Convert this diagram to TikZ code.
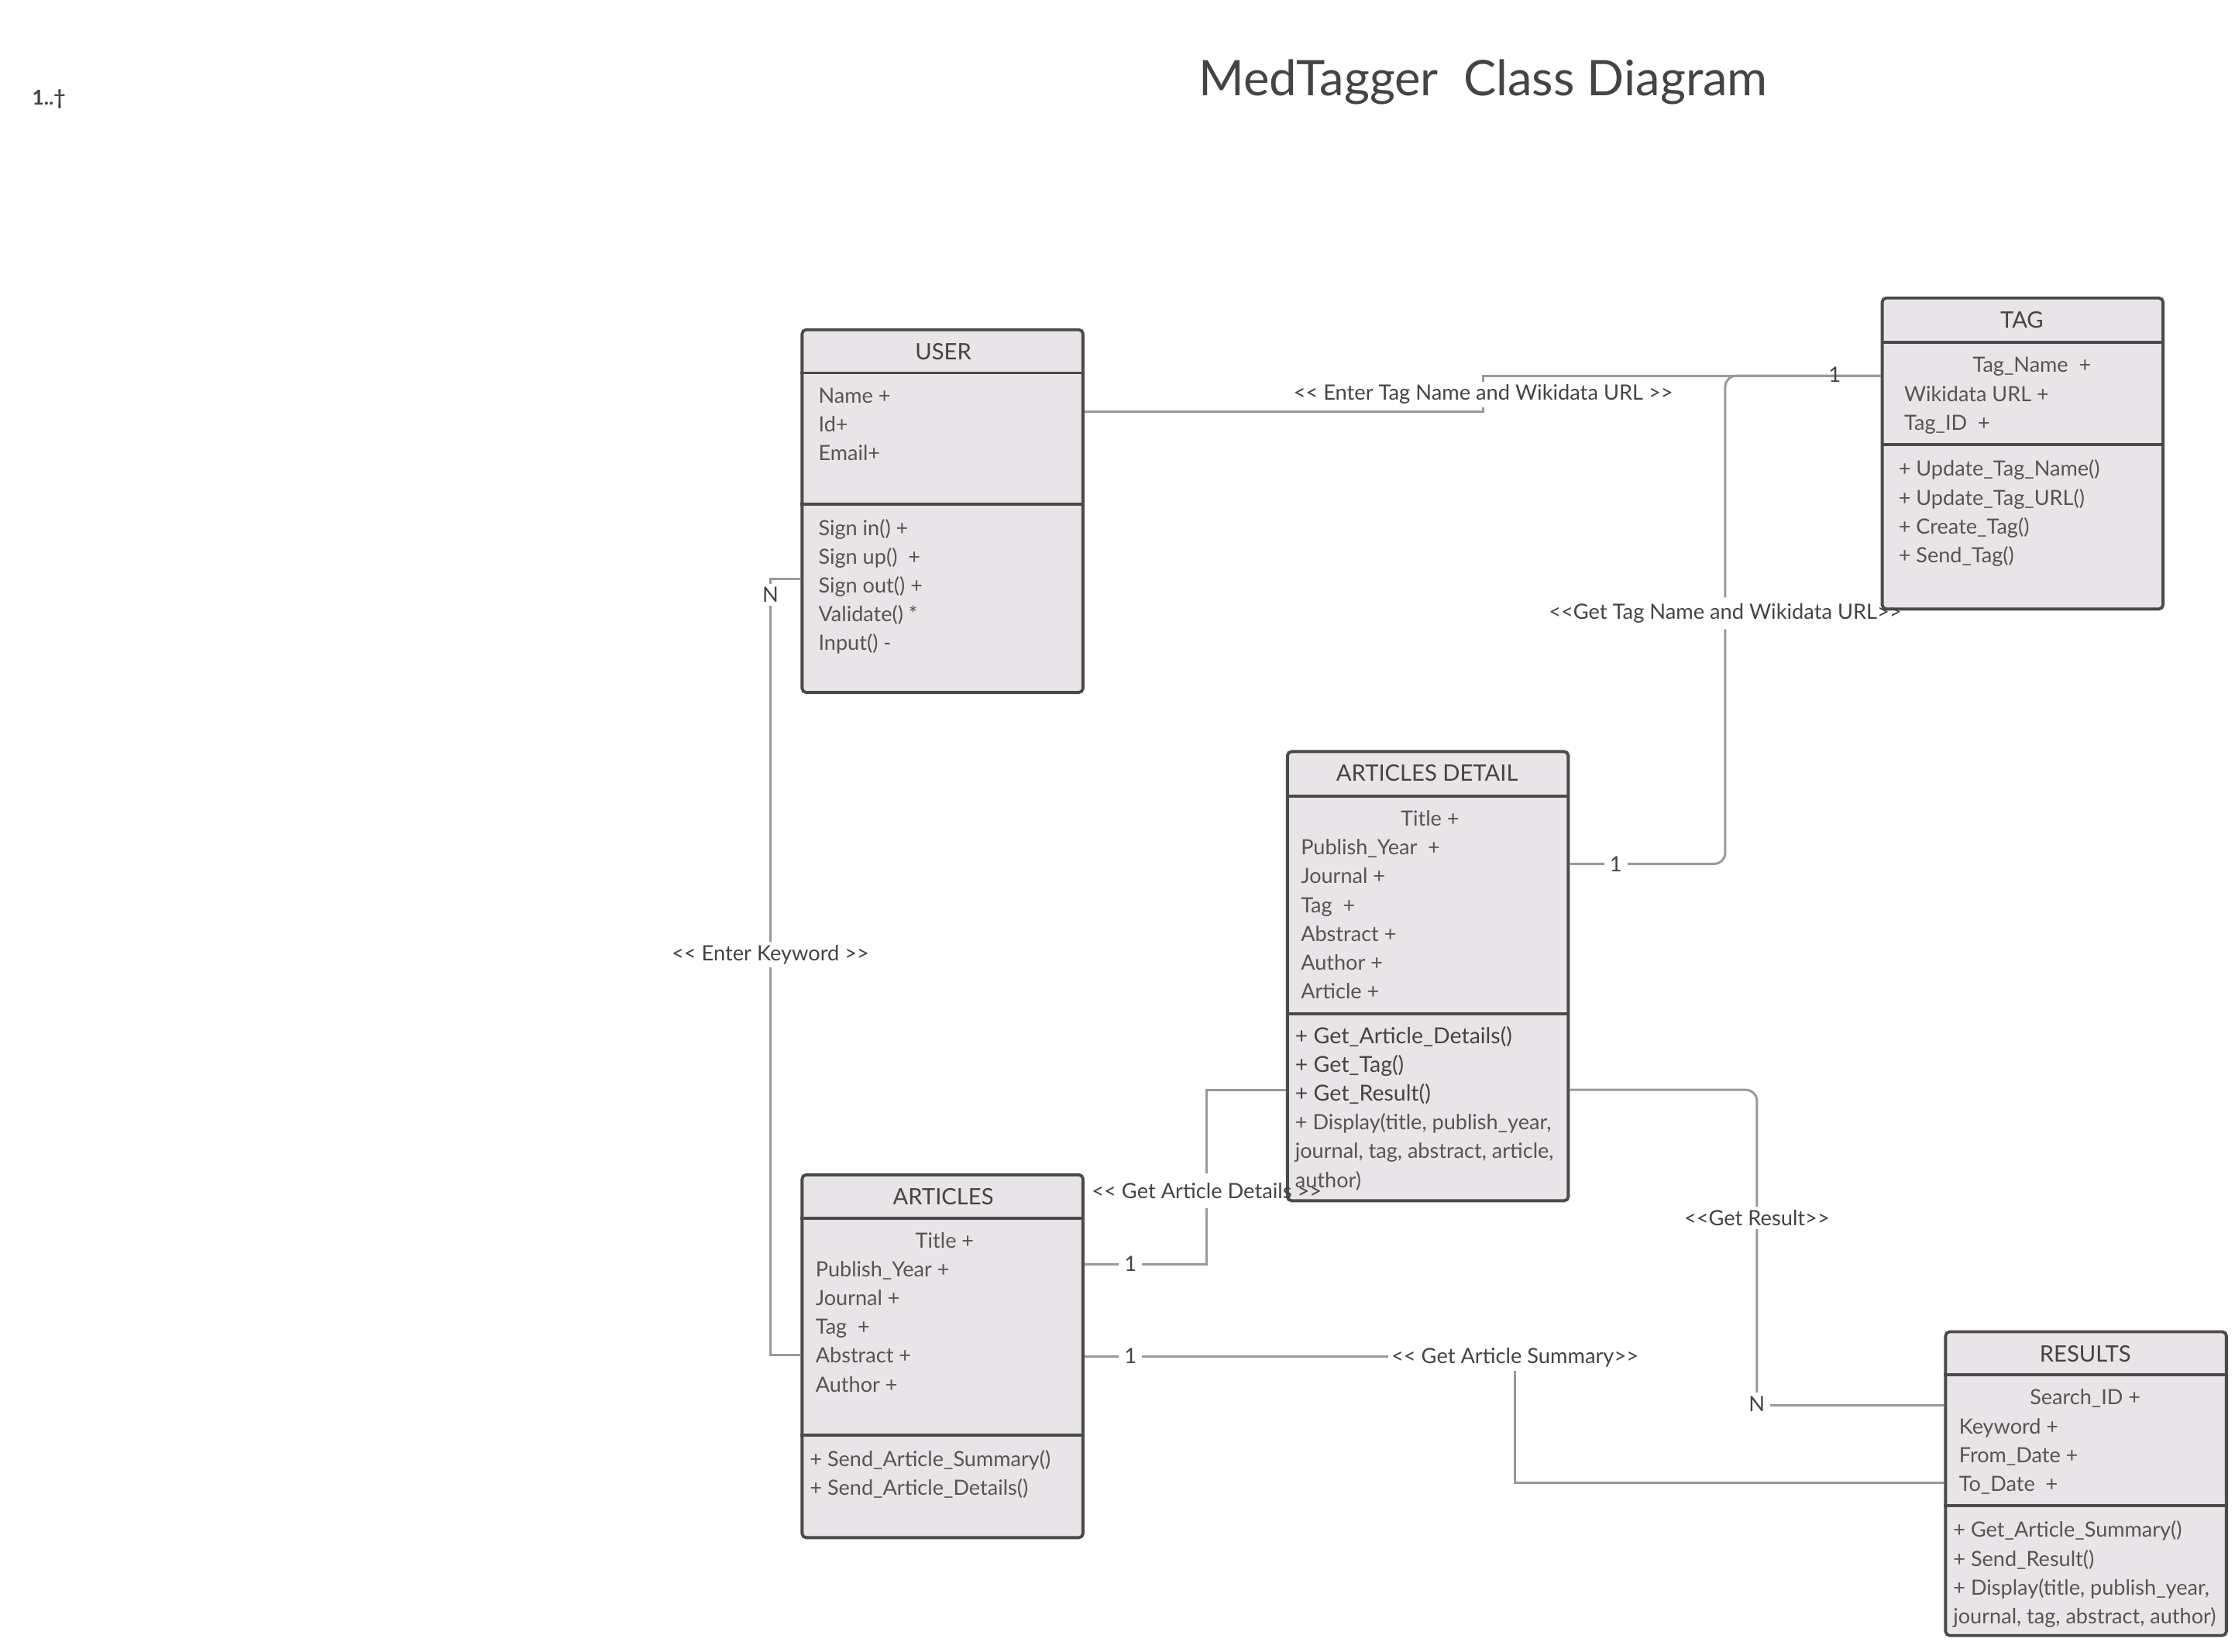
\documentclass[tikz,border=0pt]{standalone}
\usepackage{fontspec}
\setmainfont{Lato}
\usetikzlibrary{fit}

\definecolor{boxfill}{HTML}{E8E4E8}
\definecolor{boxline}{HTML}{4A4A4A}
\definecolor{txtgray}{HTML}{555555}
\definecolor{headgray}{HTML}{444444}
\definecolor{linkgray}{HTML}{999999}

\tikzset{
	classbox/.style={draw=boxline, fill=boxfill, line width=1.1pt, rounded corners=1.5pt, inner sep=0pt},
	divider/.style={draw=boxline, line width=1.1pt},
	attr/.style={anchor=west, inner sep=0pt, text=txtgray, font=\fontsize{7.7}{10}\selectfont, text height=1.6ex, text depth=.4ex},
	attrc/.style={attr, anchor=center},
	head/.style={inner sep=0pt, text=headgray, font=\fontsize{8.3}{10}\selectfont, text height=1.6ex, text depth=.4ex},
	link/.style={draw=linkgray, line width=0.85pt},
	linklbl/.style={fill=white, inner sep=1.2pt, text=headgray, font=\fontsize{7.75}{10}\selectfont},
	linknum/.style={linklbl, inner xsep=2pt},
}

\begin{document}
\begin{tikzpicture}[x=0.018589cm, y=-0.018589cm]
		\useasboundingbox (0,0) rectangle (1552,1147);
		
		\node[text=headgray, font=\fontsize{18}{20}\selectfont] (title) at (1030,57) {MedTagger\ \ Class Diagram};
		\node[anchor=west, inner sep=0pt, text=headgray, font=\bfseries\fontsize{7.5}{9}\selectfont] (corner) at (22,69) {1..†};
		
		% classes
		\node[classbox, fit={(557,229) (752,481)}] (user) {};
		\node[classbox, fit={(1307,207) (1502,423)}] (tag) {};
		\node[classbox, fit={(894,522) (1089,834)}] (artdet) {};
		\node[classbox, fit={(557,816) (752,1068)}] (art) {};
		\node[classbox, fit={(1351,925) (1546,1136)}] (res) {};
		
		\draw[divider] (user.west |- 0,259) -- (user.east |- 0,259);
		\draw[divider] (user.west |- 0,350) -- (user.east |- 0,350);
		\draw[divider] (tag.west |- 0,238) -- (tag.east |- 0,238);
		\draw[divider] (tag.west |- 0,309) -- (tag.east |- 0,309);
		\draw[divider] (artdet.west |- 0,553) -- (artdet.east |- 0,553);
		\draw[divider] (artdet.west |- 0,704) -- (artdet.east |- 0,704);
		\draw[divider] (art.west |- 0,846) -- (art.east |- 0,846);
		\draw[divider] (art.west |- 0,997) -- (art.east |- 0,997);
		\draw[divider] (res.west |- 0,955) -- (res.east |- 0,955);
		\draw[divider] (res.west |- 0,1046) -- (res.east |- 0,1046);
		
		% USER
		\node[head] (userH) at (655,244) {USER};
		\node[attr] (userA1) at (568,274) {Name +};
		\node[attr] (userA2) at (568,294) {Id+};
		\node[attr] (userA3) at (568,314) {Email+};
		\node[attr] (userM1) at (568,366) {Sign in() +};
		\node[attr] (userM2) at (568,386) {Sign up()\ \ +};
		\node[attr] (userM3) at (568,406) {Sign out() +};
		\node[attr] (userM4) at (568,426) {Validate() *};
		\node[attr] (userM5) at (568,446) {Input() -};
		
		% TAG
		\node[head] (tagH) at (1404,222) {TAG};
		\node[attrc] (tagA1) at (1411,253) {Tag\_Name\ \ +};
		\node[attr] (tagA2) at (1322,273) {Wikidata URL +};
		\node[attr] (tagA3) at (1322,293) {Tag\_ID\ \ +};
		\node[attr] (tagM1) at (1318,325) {+ Update\_Tag\_Name()};
		\node[attr] (tagM2) at (1318,345) {+ Update\_Tag\_URL()};
		\node[attr] (tagM3) at (1318,365) {+ Create\_Tag()};
		\node[attr] (tagM4) at (1318,385) {+ Send\_Tag()};
		
		% ARTICLES DETAIL
		\node[head] (artdetH) at (991,537) {ARTICLES DETAIL};
		\node[attrc] (artdetA1) at (993,568) {Title +};
		\node[attr] (artdetA2) at (903,588) {Publish\_Year\ \ +};
		\node[attr] (artdetA3) at (903,608) {Journal +};
		\node[attr] (artdetA4) at (903,628) {Tag\ \ +};
		\node[attr] (artdetA5) at (903,648) {Abstract +};
		\node[attr] (artdetA6) at (903,668) {Author +};
		\node[attr] (artdetA7) at (903,688) {Article +};
		\node[attr, text=headgray, font=\fontsize{8.1}{10}\selectfont] (artdetM1) at (899,719) {+ Get\_Article\_Details()};
		\node[attr, text=headgray, font=\fontsize{8.1}{10}\selectfont] (artdetM2) at (899,739) {+ Get\_Tag()};
		\node[attr, text=headgray, font=\fontsize{8.1}{10}\selectfont] (artdetM3) at (899,759) {+ Get\_Result()};
		\node[attr] (artdetM4) at (899,779) {+ Display(title, publish\_year,};
		\node[attr] (artdetM5) at (899,799) {journal, tag, abstract, article,};
		\node[attr] (artdetM6) at (899,819) {author)};
		
		% ARTICLES
		\node[head] (artH) at (655,831) {ARTICLES};
		\node[attrc] (artA1) at (656,861) {Title +};
		\node[attr] (artA2) at (566,881) {Publish\_Year +};
		\node[attr] (artA3) at (566,901) {Journal +};
		\node[attr] (artA4) at (566,921) {Tag\ \ +};
		\node[attr] (artA5) at (566,941) {Abstract +};
		\node[attr] (artA6) at (566,961) {Author +};
		\node[attr] (artM1) at (562,1013) {+ Send\_Article\_Summary()};
		\node[attr] (artM2) at (562,1033) {+ Send\_Article\_Details()};
		
		% RESULTS
		\node[head] (resH) at (1448,940) {RESULTS};
		\node[attrc] (resA1) at (1448,970) {Search\_ID +};
		\node[attr] (resA2) at (1360,990) {Keyword +};
		\node[attr] (resA3) at (1360,1010) {From\_Date +};
		\node[attr] (resA4) at (1360,1030) {To\_Date\ \ +};
		\node[attr] (resM1) at (1356,1062) {+ Get\_Article\_Summary()};
		\node[attr] (resM2) at (1356,1082) {+ Send\_Result()};
		\node[attr] (resM3) at (1356,1102) {+ Display(title, publish\_year,};
		\node[attr] (resM4) at (1356,1122) {journal, tag, abstract, author)};
		
		% connectors
		\coordinate (userR) at (user.east |- 0,286);
		\coordinate (userL) at (user.west |- 0,402);
		\coordinate (tagL) at (tag.west |- 0,261);
		\coordinate (detR1) at (artdet.east |- 0,600);
		\coordinate (detR2) at (artdet.east |- 0,757);
		\coordinate (detL) at (artdet.west |- 0,757);
		\coordinate (artL) at (art.west |- 0,941);
		\coordinate (artR1) at (art.east |- 0,878);
		\coordinate (artR2) at (art.east |- 0,942);
		\coordinate (resL1) at (res.west |- 0,976);
		\coordinate (resL2) at (res.west |- 0,1030);
		
		\draw[link] (userR) -- (1030,286) -- (1030,261) -- (tagL);
		\draw[link, rounded corners=4pt] (detR1) -- (1198,600) -- (1198,437) (1198,415) -- (1198,261) -- (tagL);
		\draw[link] (userL) -- (535,402) -- (535,941) -- (artL);
		\draw[link] (artR1) -- (838,878) -- (838,839) (838,815) -- (838,757) -- (detL);
		\draw[link] (artR2) -- (1052,942) -- (1052,1030) -- (resL2);
		\draw[link, rounded corners=4pt] (detR2) -- (1220,757) -- (1220,976) -- (resL1);
		
		\node[linklbl] (enterTag) at (1030,274) {<{}< Enter Tag Name and Wikidata URL >{}>};
		\node[linklbl, fill=none] (oneTag) at (1274,260) {1};
		\node[linklbl, fill=none] (getTag) at (1198,426) {<{}<Get Tag Name and Wikidata URL>{}>};
		\node[linknum] (oneDet) at (1122,600) {1};
		\node[linknum] (nUser) at (535,413) {N};
		\node[linklbl] (enterKey) at (535,663) {<{}< Enter Keyword >{}>};
		\node[linknum] (oneArt1) at (785,878) {1};
		\node[linklbl, fill=none] (getDet) at (838,827) {<{}< Get Article Details >{}>};
		\node[linknum] (oneArt2) at (785,942) {1};
		\node[linklbl] (getSum) at (1052,943) {<{}< Get Article Summary>{}>};
		\node[linklbl] (getRes) at (1220,846) {<{}<Get Result>{}>};
		\node[linknum] (nRes) at (1220,975) {N};
		\end{tikzpicture}
\end{document}
